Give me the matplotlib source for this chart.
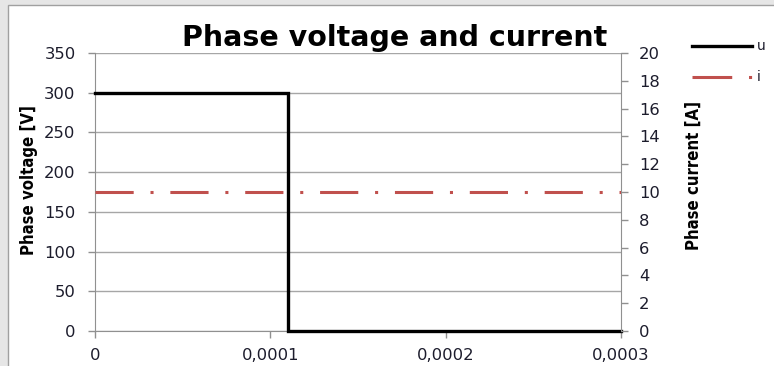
import matplotlib
matplotlib.use("Agg")
import matplotlib.pyplot as plt
from matplotlib.patches import Rectangle

# Data
time_u = [0, 0.00011, 0.00011, 0.0003]
voltage = [300, 300, 0, 0]
time_i = [0, 0.0003]
current = [10, 10]
x_ticks = [0, 0.0001, 0.0002, 0.0003]
x_tick_labels = ["0", "0,0001", "0,0002", "0,0003"]
left_ticks = [0, 50, 100, 150, 200, 250, 300, 350]
right_ticks = [0, 2, 4, 6, 8, 10, 12, 14, 16, 18, 20]

W, H = 774, 366
fig = plt.figure(figsize=(W / 100, H / 100), dpi=100, facecolor="#e6e6e6")

# white chart area
fig.patches.append(Rectangle((8 / W, -0.05), 1.0, 1.05 - 5 / H, transform=fig.transFigure,
                             facecolor="white", edgecolor="#a0a0a0", linewidth=1.0, zorder=-10))

ax = fig.add_axes([95 / W, 1 - 331 / H, (621 - 95) / W, (331 - 53) / H])
ax.set_facecolor("none")
ax2 = ax.twinx()

tick_col = "#1c1c2c"
red = "#c0504d"
dash = (0, (12.5, 5.5, 1, 5.5))
ax.plot(time_u, voltage, color="black", lw=2.4, solid_joinstyle="miter", zorder=3, clip_on=False)
ax2.plot(time_i, current, color=red, lw=2.2, linestyle=dash, dash_capstyle="butt", zorder=3)

ax.set_xlim(0, 0.0003)
ax.set_ylim(0, 350)
ax2.set_ylim(0, 20)
ax.set_xticks(x_ticks)
ax.set_xticklabels(x_tick_labels)
ax.set_yticks(left_ticks)
ax2.set_yticks(right_ticks)

ax.grid(axis="y", color="#a6a6a6", lw=1.0)
ax.set_axisbelow(True)

for a in (ax, ax2):
    for s in a.spines.values():
        s.set_visible(False)
ax.spines["left"].set_visible(True)
ax.spines["left"].set_color("#909090")
ax.spines["bottom"].set_visible(True)
ax.spines["bottom"].set_color("#909090")
ax2.spines["right"].set_visible(True)
ax2.spines["right"].set_color("#909090")

ax.tick_params(axis="both", colors="#909090", labelcolor=tick_col, labelsize=11.8, length=5, width=1)
ax.tick_params(axis="y", pad=9)
ax.tick_params(axis="x", pad=7)
ax2.tick_params(axis="y", colors="#909090", labelcolor=tick_col, labelsize=11.8, length=5, width=1, pad=8)

ax.set_ylabel("Phase voltage [V]", family="DejaVu Sans", fontstretch="condensed", fontweight="bold",
              fontsize=12, color="black", labelpad=4)
ax2.set_ylabel("Phase current [A]", family="DejaVu Sans", fontstretch="condensed", fontweight="bold",
               fontsize=12, color="black", labelpad=18)
ax.yaxis.label.set_y(0.543)
ax2.yaxis.label.set_y(0.56)

fig.text(395 / W, 1 - 38 / H, "Phase voltage and current", ha="center", va="center",
         fontsize=20.5, fontweight="bold", color="black")

# legend
fig.lines.append(plt.Line2D([692 / W, 752 / W], [1 - 46 / H, 1 - 46 / H], transform=fig.transFigure,
                            color="black", lw=2.4))
fig.lines.append(plt.Line2D([692 / W, 752 / W], [1 - 77 / H, 1 - 77 / H], transform=fig.transFigure,
                            color=red, lw=2.2, linestyle=(0, (13, 5.5, 1, 6)), dash_capstyle="butt"))
fig.text(757 / W, 1 - 46 / H, "u", ha="left", va="center", fontsize=10, color=tick_col)
fig.text(757 / W, 1 - 77 / H, "i", ha="left", va="center", fontsize=10, color=tick_col)

fig.savefig("out.png", dpi=100, facecolor=fig.get_facecolor())
